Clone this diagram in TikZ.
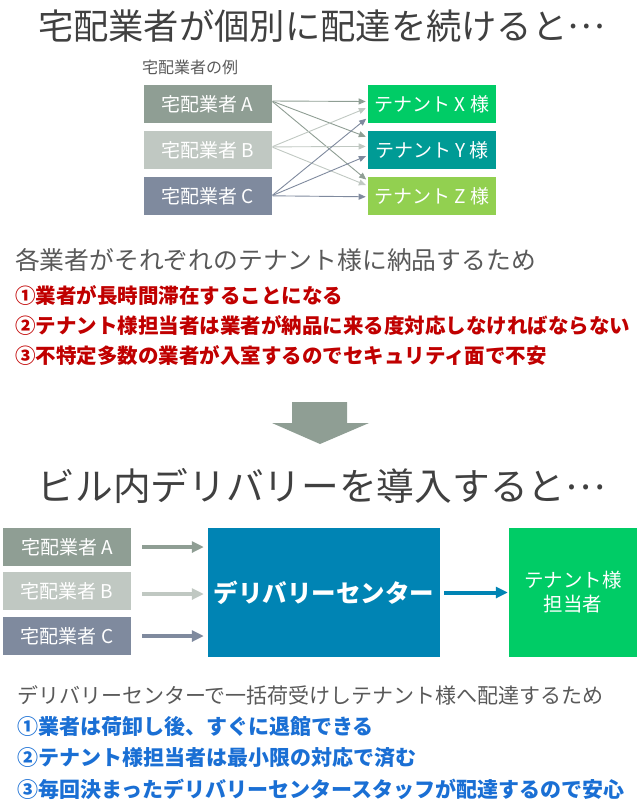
\documentclass[tikz,border=0pt]{standalone}
\usepackage{fontspec}
\setmainfont{Noto Sans CJK JP}
\usepackage{tikz}
\usetikzlibrary{positioning, calc, arrows.meta}
\definecolor{VendorA}{HTML}{8F9E94}
\definecolor{VendorB}{HTML}{C0C8C2}
\definecolor{VendorC}{HTML}{7F8A9E}
\definecolor{TenantX}{HTML}{00CC66}
\definecolor{TenantY}{HTML}{009B95}
\definecolor{TenantZ}{HTML}{92D050}
\definecolor{CenterColor}{HTML}{0084B4}
\definecolor{TitleGray}{HTML}{404040}
\definecolor{TextGray}{HTML}{595959}
\definecolor{RedText}{HTML}{C00000}
\definecolor{BlueText}{HTML}{1A6FD4}
\newcommand{\jpsize}[1]{\fontsize{#1}{#1}\selectfont}
\newcommand{\middots}{\raisebox{0.3em}{…}}
\tikzset{
    box/.style={
        shape=rectangle,
        fill=#1,
        text=white,
        inner sep=0pt,
        minimum width=128pt,
        minimum height=38pt,
        font=\jpsize{19}
    },
    title/.style={text=TitleGray, inner sep=0pt},
    caption/.style={anchor=west, inner sep=0pt, text=TextGray, font=\jpsize{21}},
    point/.style={anchor=west, inner sep=0pt, text=#1, font=\bfseries\jpsize{20.5}},
    thin arrow/.style={-{Triangle[length=7pt, width=6pt]}, line width=0.9pt, draw=#1, shorten <=1pt, shorten >=2pt},
    thick arrow/.style={-{Triangle[length=12pt, width=11pt]}, line width=4pt, draw=#1}
}

\begin{document}
\begin{tikzpicture}[x=1pt, y=-1pt, node distance=7.5pt]
\useasboundingbox (0,0) rectangle (640,812);

% Title
\node[title, font=\jpsize{35.3}] (title1) at (321.5,26) {宅配業者が個別に配達を続けると\middots};

% Vendors and tenants
\node[anchor=west, inner sep=0pt, text=TextGray, font=\jpsize{16}] (example) at (142,67) {宅配業者の例};
\node[box=VendorA] (vA) at (207.5,104) {宅配業者 A};
\node[box=VendorB, below=of vA] (vB) {宅配業者 B};
\node[box=VendorC, below=of vB] (vC) {宅配業者 C};

\node[box=TenantX, right=96pt of vA] (tX) {テナント X 様};
\node[box=TenantY, right=96pt of vB] (tY) {テナント Y 様};
\node[box=TenantZ, right=96pt of vC] (tZ) {テナント Z 様};

% Deliveries
\draw[thin arrow=VendorA] ($(vA.east)+(0,-3)$) -- ($(tX.west)+(0,-2.5)$);
\draw[thin arrow=VendorA] ($(vA.east)+(0,-3)$) -- ($(tY.west)+(0,-12.5)$);
\draw[thin arrow=VendorA] ($(vA.east)+(0,-3)$) -- ($(tZ.west)+(0,-15)$);
\draw[thin arrow=VendorB] ($(vB.east)+(0,-3)$) -- ($(tX.west)+(0,3.5)$);
\draw[thin arrow=VendorB] ($(vB.east)+(0,-3)$) -- ($(tY.west)+(0,-3.5)$);
\draw[thin arrow=VendorB] ($(vB.east)+(0,-3)$) -- ($(tZ.west)+(0,-10)$);
\draw[thin arrow=VendorC] (vC.east) -- ($(tX.west)+(0,13.5)$);
\draw[thin arrow=VendorC] (vC.east) -- ($(tY.west)+(0,5.5)$);
\draw[thin arrow=VendorC] (vC.east) -- ($(tZ.west)+(0,1)$);

% Problems
\node[caption, font=\jpsize{24.8}] (cause1) at (15,260) {各業者がそれぞれのテナント様に納品するため};
\node[point=RedText] (bad1) at (15,295) {①業者が長時間滞在することになる};
\node[point=RedText] (bad2) at (15,326) {②テナント様担当者は業者が納品に来る度対応しなければならない};
\node[point=RedText] (bad3) at (15,356) {③不特定多数の業者が入室するのでセキュリティ面で不安};

% Down arrow
\fill[VendorA] (292,402) -- (347,402) -- (347,423) -- (369,423) -- (320,444) -- (272,423) -- (292,423) -- cycle;

% Title
\node[title, font=\jpsize{37.7}] (title2) at (321.5,486) {ビル内デリバリーを導入すると\middots};

% Delivery center
\node[box=VendorA] (dA) at (67,547) {宅配業者 A};
\node[box=VendorB] (dB) at (67,591) {宅配業者 B};
\node[box=VendorC] (dC) at (67,636) {宅配業者 C};
\node[box=CenterColor, minimum width=232pt, minimum height=129pt, font=\bfseries\jpsize{24.5}] (center) at (324,592.5) {デリバリーセンター};
\node[box=TenantX, minimum height=129pt, align=center, font=\fontsize{19.5}{24}\selectfont] (staff) at (573,592.5) {テナント様\\担当者};

\draw[thick arrow=VendorA, shorten <=11pt, shorten >=4pt] (dA.east) -- (dA.east -| center.west);
\draw[thick arrow=VendorB, shorten <=11pt, shorten >=4pt] ($(dB.east)+(0,3)$) -- ($(dB.east -| center.west)+(0,3)$);
\draw[thick arrow=VendorC, shorten <=11pt, shorten >=4pt] (dC.east) -- (dC.east -| center.west);
\draw[thick arrow=CenterColor, shorten <=4pt, shorten >=1pt] (center.east) -- (staff.west);

% Benefits
\node[caption] (cause2) at (17,695) {デリバリーセンターで一括荷受けしテナント様へ配達するため};
\node[point=BlueText, font=\bfseries\jpsize{21}] (good1) at (17,727) {①業者は荷卸し後、すぐに退館できる};
\node[point=BlueText, font=\bfseries\jpsize{21}] (good2) at (17,758) {②テナント様担当者は最小限の対応で済む};
\node[point=BlueText, font=\bfseries\jpsize{21}] (good3) at (17,789) {③毎回決まったデリバリーセンタースタッフが配達するので安心};

\end{tikzpicture}
\end{document}
